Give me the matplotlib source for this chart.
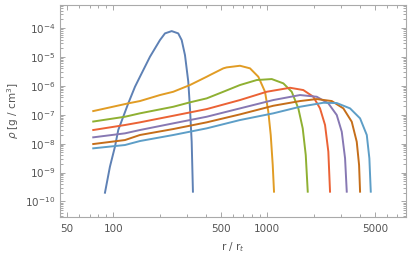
import matplotlib
matplotlib.use('Agg')
import matplotlib.pyplot as plt
from matplotlib.ticker import LogLocator, FixedLocator, FixedFormatter, NullFormatter

# density profiles rho(r), one pair of lists per curve
r_1 = [88.2, 95.0, 102.4, 107.6, 125.0, 138.2, 148.9, 173.0, 200.9, 216.5, 239.4, 264.0, 278.0, 292.1, 306.9, 314.8, 322.9, 329.0]
rho_1 = [2.0e-10, 1.59e-9, 7.8e-9, 2.96e-8, 2.48e-7, 9.3e-7, 2.07e-6, 1.02e-5, 3.85e-5, 6.56e-5, 7.87e-5, 6.56e-5, 3.85e-5, 1.16e-5, 1.39e-6, 1.66e-7, 1.16e-8, 2.17e-10]

r_2 = [74.0, 125.0, 148.9, 200.9, 245.2, 314.8, 404.3, 424.6, 518.3, 545.4, 665.5, 773, 875.3, 967.6, 1016.6, 1054, 1086, 1107]
rho_2 = [1.34e-7, 2.48e-7, 2.98e-7, 4.81e-7, 6.25e-7, 1.07e-6, 2.07e-6, 2.37e-6, 4.04e-6, 4.36e-6, 4.97e-6, 4.04e-6, 2.07e-6, 6.25e-7, 1.27e-7, 1.99e-8, 1.82e-9, 2.17e-10]

r_3 = [74.0, 119.0, 148.9, 245.2, 314.8, 404.3, 518.3, 665.5, 854.6, 1070, 1273, 1443, 1593, 1701, 1780, 1834]
rho_3 = [5.82e-8, 8.53e-8, 1.12e-7, 1.89e-7, 2.69e-7, 3.69e-7, 6.25e-7, 1.07e-6, 1.59e-6, 1.72e-6, 1.22e-6, 6.25e-7, 1.66e-7, 3.38e-8, 4.04e-9, 2.17e-10]

r_4 = [74.0, 119.0, 148.9, 245.2, 404.3, 665.5, 992.5, 1407, 1716, 1993, 2204, 2376, 2496, 2560]
rho_4 = [2.96e-8, 4.41e-8, 5.46e-8, 9.23e-8, 1.57e-7, 3.23e-7, 6.25e-7, 8.59e-7, 7.16e-7, 4.2e-7, 1.66e-7, 4.41e-8, 5.25e-9, 2.17e-10]

r_5 = [74.0, 119.0, 148.9, 245.2, 404.3, 665.5, 1096, 1634, 2098, 2496, 2831, 3051, 3206, 3288]
rho_5 = [1.65e-8, 2.27e-8, 2.96e-8, 5.04e-8, 8.53e-8, 1.66e-7, 3.23e-7, 4.81e-7, 4.2e-7, 2.48e-7, 9.77e-8, 2.58e-8, 3.1e-9, 2.17e-10]

r_6 = [74.0, 119.0, 148.9, 245.2, 404.3, 665.5, 1096, 1634, 2098, 2627, 3125, 3543, 3818, 3954, 4013]
rho_6 = [9.68e-9, 1.33e-8, 1.99e-8, 3.2e-8, 5.46e-8, 1.03e-7, 2.05e-7, 2.98e-7, 3.49e-7, 2.98e-7, 1.66e-7, 5.73e-8, 1.16e-8, 1.82e-9, 2.17e-10]

r_7 = [74.0, 119.0, 148.9, 245.2, 404.3, 665.5, 1096, 1634, 2317, 2831, 3455, 4013, 4437, 4612, 4710]
rho_7 = [6.87e-9, 8.95e-9, 1.23e-8, 1.99e-8, 3.38e-8, 6.56e-8, 1.12e-7, 1.89e-7, 2.6e-7, 2.54e-7, 1.66e-7, 7.5e-8, 1.99e-8, 3.1e-9, 2.17e-10]

curves = [(r_1, rho_1), (r_2, rho_2), (r_3, rho_3), (r_4, rho_4), (r_5, rho_5), (r_6, rho_6), (r_7, rho_7)]
colors = ['#5E81B5', '#E19C24', '#8FB032', '#EB6235', '#8778B3', '#C56E1A', '#5D9EC7']

x_ticks = [50, 100, 500, 1000, 5000]
x_ticklabels = ['50', '100', '500', '1000', '5000']

fig = plt.figure(figsize=(4.11, 2.61), dpi=100)
ax = fig.add_axes([60/411, 1-216.7/261, 346/411, 212/261])

for (r, rho), c in zip(curves, colors):
    ax.plot(r, rho, color=c, lw=1.4, solid_joinstyle='round')

ax.set_xscale('log')
ax.set_yscale('log')
ax.set_xlim(45, 7980)
ax.set_ylim(10**-10.53, 10**-3.19)

ax.xaxis.set_major_locator(FixedLocator(x_ticks))
ax.xaxis.set_major_formatter(FixedFormatter(x_ticklabels))
ax.xaxis.set_minor_locator(LogLocator(base=10, subs=range(1, 10)))
ax.xaxis.set_minor_formatter(NullFormatter())
ax.yaxis.set_major_locator(LogLocator(base=10, numticks=20))
ax.yaxis.set_minor_locator(LogLocator(base=10, subs=range(2, 10), numticks=20))
ax.yaxis.set_minor_formatter(NullFormatter())
ax.xaxis.get_offset_text().set_visible(False)

gray = '#999999'
for s in ax.spines.values():
    s.set_color('#aaaaaa')
    s.set_linewidth(0.8)
ax.tick_params(which='both', direction='in', top=True, right=True, colors=gray, labelcolor='#555555', labelsize=7.5, width=0.6)
ax.tick_params(which='major', length=3.5)
ax.tick_params(which='minor', length=2)
ax.tick_params(axis='x', which='both', pad=5)

ax.set_xlabel('r / r$_t$', fontsize=7.5, color='#555555', labelpad=5)
ax.set_ylabel(r'$\rho$ [g / cm$^3$]', fontsize=7.5, color='#555555', labelpad=3)

fig.savefig('out.png', dpi=100)
